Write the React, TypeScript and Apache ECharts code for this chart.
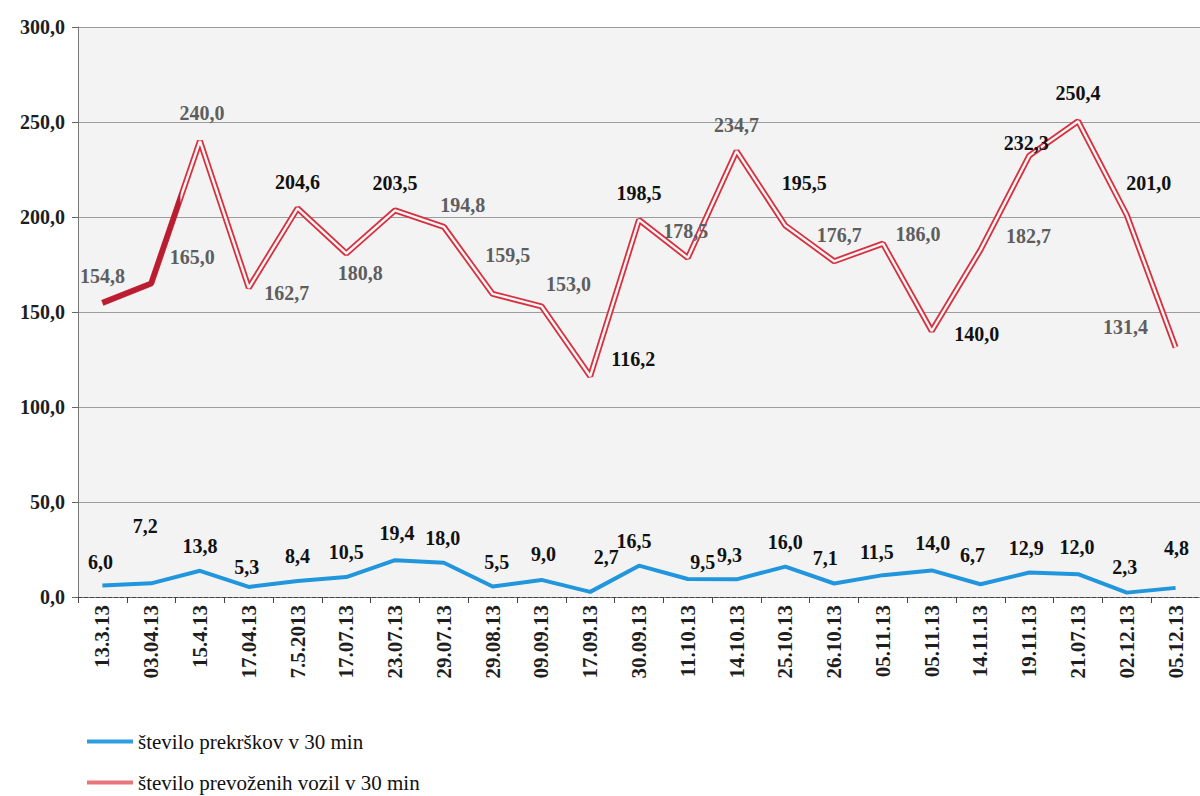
import React, { useEffect, useRef } from "react";
import * as echarts from "echarts";

const categories = [
  "13.3.13", "03.04.13", "15.4.13", "17.04.13", "7.5.2013", "17.07.13", "23.07.13", "29.07.13",
  "29.08.13", "09.09.13", "17.09.13", "30.09.13", "11.10.13", "14.10.13", "25.10.13", "26.10.13",
  "05.11.13", "05.11.13", "14.11.13", "19.11.13", "21.07.13", "02.12.13", "05.12.13",
];

const violations = [6.0, 7.2, 13.8, 5.3, 8.4, 10.5, 19.4, 18.0, 5.5, 9.0, 2.7, 16.5, 9.5, 9.3, 16.0, 7.1, 11.5, 14.0, 6.7, 12.9, 12.0, 2.3, 4.8];

const vehicles = [154.8, 165.0, 240.0, 162.7, 204.6, 180.8, 203.5, 194.8, 159.5, 153.0, 116.2, 198.5, 178.5, 234.7, 195.5, 176.7, 186.0, 140.0, 182.7, 232.3, 250.4, 201.0, 131.4];

const yMin = 0;
const yMax = 300;
const yStep = 50;

const seriesNames = ["število prekrškov v 30 min", "število prevoženih vozil v 30 min"];

// label placement (pixel offsets from each point) — kept apart from the data
const blueLabelOffsets: [number, number][] = [
  [-2, -24], [-6, -57], [0, -25], [-2, -20], [0, -25], [0, -25], [2, -27], [-1, -25], [4, -25], [2, -26],
  [16, -35], [-5, -25], [15, -17], [-7, -24], [0, -25], [-9, -26], [-6, -23], [1, -27], [-8, -29], [-3, -24],
  [-1, -27], [-2, -26], [1, -40],
];
const redLabelOffsets: [number, number][] = [
  [0, -27], [41, -27], [2, -28], [38, 5], [0, -26], [14, 20], [0, -27], [19, -22], [15, -39], [27, -22],
  [43, -17], [0, -27], [-2, -27], [0, -26], [19, -43], [5, -26], [35, -10], [45, 3], [48, -14], [-3, -13],
  [0, -28], [22, -32], [-50, -20],
];
const redLabelDark = [
  false, false, false, false, true, false, true, false, false, false, true, true,
  false, false, true, false, false, true, false, true, true, true, false,
];

const FONT = "'Liberation Serif', 'Times New Roman', serif";
const fmt = (v: number) => v.toFixed(1).replace(".", ",");

export default function App() {
  const ref = useRef<HTMLDivElement>(null);

  useEffect(() => {
    if (!ref.current) return;
    const chart = echarts.init(ref.current, undefined, { renderer: "svg" });

    const labelBase = {
      show: true,
      position: "inside",
      fontFamily: FONT,
      fontSize: 20,
      fontWeight: "bold",
      formatter: (p: any) => fmt(p.value),
    };

    const option: any = {
      animation: false,
      backgroundColor: "#ffffff",
      textStyle: { fontFamily: FONT },
      grid: {
        left: 78,
        right: -2,
        top: 27,
        bottom: 199,
        show: true,
        backgroundColor: "#f3f3f3",
        borderWidth: 0,
      },
      legend: {
        orient: "vertical",
        left: 87,
        top: 731,
        itemGap: 20,
        itemWidth: 46,
        itemHeight: 4,
        icon: "rect",
        padding: 0,
        selectedMode: false,
        textStyle: { fontFamily: FONT, fontSize: 21, color: "#111" },
        data: [
          { name: seriesNames[0], itemStyle: { color: "#2e9ee0" } },
          { name: seriesNames[1], itemStyle: { color: "#e8747c" } },
        ],
      },
      xAxis: {
        type: "category",
        data: categories,
        boundaryGap: true,
        axisLine: { show: true, lineStyle: { color: "#444", width: 1, type: "dashed" } },
        axisTick: { show: true, length: 6, lineStyle: { color: "#444" } },
        axisLabel: {
          rotate: 90,
          margin: 8,
          interval: 0,
          fontFamily: FONT,
          fontSize: 21,
          fontWeight: "bold",
          color: "#1e1e1e",
        },
        splitLine: { show: false },
      },
      yAxis: {
        type: "value",
        min: yMin,
        max: yMax,
        interval: yStep,
        axisLine: { show: true, lineStyle: { color: "#777" } },
        axisTick: { show: true, length: 6, lineStyle: { color: "#666" } },
        axisLabel: {
          formatter: (v: number) => fmt(v),
          margin: 13,
          fontFamily: FONT,
          fontSize: 20,
          fontWeight: "bold",
          color: "#1e1e1e",
        },
        splitLine: { show: true, lineStyle: { color: "#9c9c9c", width: 1 } },
      },
      series: [
        {
          name: seriesNames[1],
          type: "line",
          data: vehicles,
          symbol: "none",
          silent: true,
          z: 2,
          itemStyle: { color: "#d8303f" },
          lineStyle: { color: "#d8303f", width: 6 },
        },
        {
          name: "inner",
          type: "line",
          data: vehicles,
          symbol: "none",
          silent: true,
          z: 2,
          lineStyle: { color: "#f6f6f6", width: 2.4 },
        },
        {
          name: "segment",
          type: "line",
          data: vehicles.map((v, i) => (i < 3 ? v : "-")),
          symbol: "none",
          silent: true,
          z: 2,
          lineStyle: {
            width: 5,
            color: {
              type: "linear",
              x: 0,
              y: 0,
              x2: 1,
              y2: 0,
              colorStops: [
                { offset: 0, color: "#b81e32" },
                { offset: 0.8, color: "#b81e32" },
                { offset: 0.801, color: "rgba(184,30,50,0)" },
                { offset: 1, color: "rgba(184,30,50,0)" },
              ],
            },
          },
        },
        {
          name: seriesNames[0],
          type: "line",
          data: violations.map((v, i) => ({
            value: v,
            label: { offset: blueLabelOffsets[i] },
          })),
          showSymbol: true,
          symbol: "circle",
          symbolSize: 0,
          silent: true,
          z: 3,
          itemStyle: { color: "#2196dc" },
          lineStyle: { color: "#2196dc", width: 4 },
          label: { ...labelBase, color: "#111" },
        },
        {
          name: "redLabels",
          type: "line",
          data: vehicles.map((v, i) => ({
            value: v,
            label: {
              offset: redLabelOffsets[i],
              color: redLabelDark[i] ? "#111" : "#5e5e5e",
            },
          })),
          showSymbol: true,
          symbol: "circle",
          symbolSize: 0,
          silent: true,
          z: 5,
          itemStyle: { color: "rgba(0,0,0,0)" },
          lineStyle: { opacity: 0, width: 0 },
          label: { ...labelBase },
        },
      ],
    };

    chart.setOption(option);
    return () => chart.dispose();
  }, []);

  return (
    <div
      ref={ref}
      style={{ position: "absolute", left: 0, top: 0, width: 1200, height: 796 }}
    />
  );
}
